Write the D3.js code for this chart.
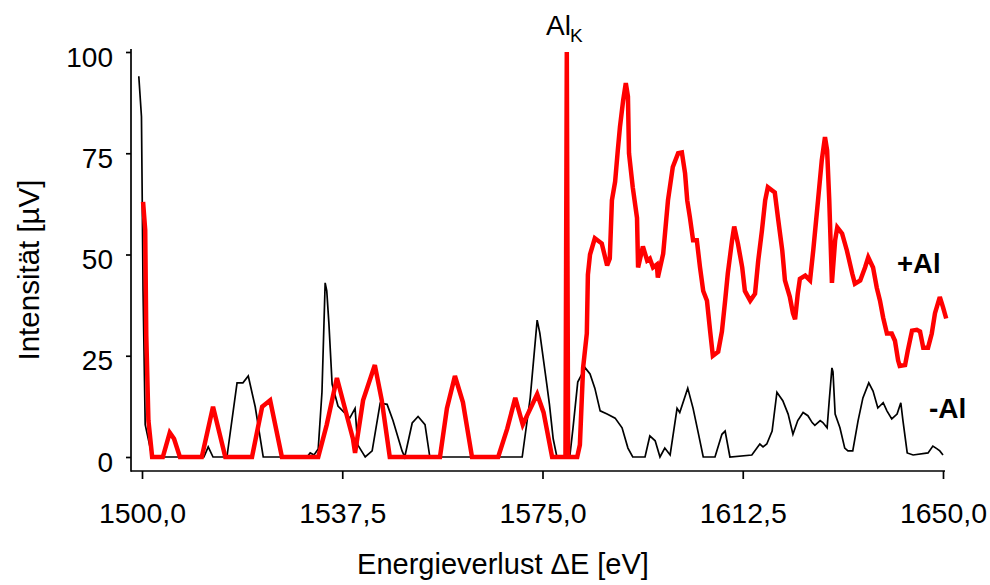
<!DOCTYPE html>
<html>
<head>
<meta charset="utf-8">
<script src="https://cdn.jsdelivr.net/npm/d3@7"></script>
<style>
  html, body { margin: 0; padding: 0; background: #fff; }
  svg { display: block; }
  text { font-family: "Liberation Sans", Arial, sans-serif; fill: #000; }
</style>
</head>
<body>
<svg id="chart" width="990" height="585"></svg>
<script>
// ---- Data ----
const xTicks = [1500, 1537.5, 1575, 1612.5, 1650];
const xTickLabels = ["1500,0", "1537,5", "1575,0", "1612,5", "1650,0"];
const yTicks = [0, 25, 50, 75, 100];
const yTickLabels = ["0", "25", "50", "75", "100"];

// -Al (black)
const minusAlE = [1499.4,1499.9,1500.2,1500.6,1501.9,1511.6,1512.4,1513.3,1515.9,1517.8,1518.9,1519.9,1521.2,1522.7,
  1530.9,1531.5,1532.2,1533.0,1533.7,1534.3,1534.6,1535.0,1535.6,1536.7,1538.9,1539.9,1540.4,1541.8,1543.1,1544.6,1545.9,
  1547.0,1548.7,1549.2,1550.6,1551.7,1553.0,1553.9,1571.2,1572.7,1574.0,1574.5,1575.8,1576.3,1577.0,1577.7,1580.1,1580.7,
  1581.6,1583.0,1583.9,1584.8,1585.8,1587.1,1588.6,1589.9,1591.0,1591.9,1594.2,1595.1,1596.1,1597.0,1597.9,1598.9,1600.2,
  1600.7,1602.2,1603.2,1604.1,1605.1,1607.3,1608.6,1609.2,1610.1,1614.2,1615.7,1616.3,1617.0,1618.0,1618.9,1620.0,1621.0,
  1621.9,1622.8,1623.8,1624.7,1625.5,1626.0,1627.0,1627.5,1628.3,1628.7,1629.2,1629.4,1629.8,1630.7,1631.6,1632.2,1633.1,
  1634.1,1635.0,1636.1,1636.9,1637.8,1638.8,1639.5,1640.4,1641.4,1642.1,1642.5,1643.3,1644.4,1647.2,1648.1,1648.9,1649.4,1650.0];
const minusAlI = [94,84,41,8,0,0,2.5,0,0,18.3,18.3,20,12.4,0,
  0,1,0.5,2,16,43,41,33,18,12.6,9.6,12,3,0,1.5,13.3,13,
  9,1.5,0,8.4,10,8,0,0,14.6,33.8,30.6,18,13,4.5,0,0,7,
  18.5,22,20.5,17,11.4,10.6,9.6,7.2,2.2,0,0,5.2,4,0,2.2,0.5,12,
  11,17,12,6.4,0,0,5.6,6.4,0,0.5,3.2,2.5,3.2,6.4,16,13.9,10.6,
  5.6,9,11,10.2,8.5,7.8,9,8.5,7.2,14,22,21,10.6,7.2,2.2,1.5,1.5,
  9,14.6,18.3,16.3,12.1,13.4,11.4,9.4,10.6,13.4,9,1,0.5,1,2.7,2,1.5,0.5];

// +Al (red)
const plusAlE = [1500.2,1500.6,1500.8,1501.2,1501.9,1503.9,1505.2,1506.0,1507.1,1511.2,1513.3,1515.6,1520.6,1522.5,1524.0,1526.2,
  1533.0,1534.6,1536.5,1537.6,1539.5,1539.9,1541.4,1543.6,1544.9,1546.4,1555.8,1557.1,1558.6,1560.1,1561.8,1566.7,1568.4,
  1569.9,1571.3,1574.0,1575.2,1576.8,1579.3,1579.55,1579.8,1581.5,1582.0,1582.6,1583.3,1583.5,1583.9,1584.8,1586.1,1587.1,
  1587.6,1588.0,1588.6,1589.1,1589.5,1590.1,1590.6,1591.0,1591.2,1591.9,1592.7,1592.9,1593.8,1594.6,1595.1,1595.7,1596.4,
  1596.6,1597.6,1598.5,1599.4,1600.4,1601.1,1601.7,1602.1,1602.6,1603.2,1603.9,1604.5,1605.1,1605.8,1606.4,1606.9,1607.9,
  1608.6,1609.2,1609.7,1610.5,1610.9,1611.6,1612.4,1612.9,1613.9,1614.8,1615.4,1616.1,1616.7,1617.2,1618.5,1619.1,1619.9,
  1620.4,1621.3,1621.9,1622.3,1622.8,1623.2,1624.2,1625.1,1625.7,1626.6,1627.3,1627.9,1628.3,1628.7,1629.2,1629.8,1630.2,
  1631.1,1632.0,1633.0,1633.5,1634.5,1635.4,1636.0,1636.9,1637.6,1638.2,1638.8,1639.5,1640.4,1641.0,1641.6,1641.9,1642.9,
  1643.4,1644.2,1645.1,1645.7,1646.3,1647.2,1647.9,1648.5,1649.4,1650.0,1650.6];
const plusAlI = [63,56,30,9,0,0,6,4.5,0,0,12.4,0,0,12.4,14,0,
  0,8,19.5,14,4.5,1,14,22.7,14,0,0,12,20,13.5,0,0,7,
  14.6,8,15.5,11,0,0,100,0,0,3,22,30.5,45,50,54,52.7,47.3,
  49,63.4,68,75.7,81.4,88,92.3,89,75,66.6,59,46.8,52,48.5,49,46.8,47.5,
  44.3,50.2,63.4,71.6,75,75.2,70,63.4,59.2,53.5,53.5,46.8,41,38.6,31,25,26,
  31,38.6,45.3,53.5,56.9,52.7,46.8,41,38.6,40.3,48.5,56,63.4,66.6,65.3,59,51,
  43.6,39.6,35.5,34,40.3,44,44.8,43.6,51,63.4,73.3,79,75.7,63.4,43,53.5,56.7,
  55.2,51,45.3,42.8,43.6,46.8,49.3,46.8,41.8,38.6,34.4,30.5,30.5,28.7,23.8,22.5,22.7,
  26.2,31.2,31.4,31,27,27,30.5,35.5,39.5,37,34.2];

// ---- Drawing ----
const svg = d3.select("#chart");
const x = d3.scaleLinear().domain([1500, 1650]).range([142, 943]);
const y = d3.scaleLinear().domain([0, 100]).range([457, 52]);

const axisX = 131, axisY = 471;

// axis lines
svg.append("line").attr("x1", axisX).attr("x2", axisX).attr("y1", 49).attr("y2", axisY + 0.75)
  .attr("stroke", "#000").attr("stroke-width", 1.7);
svg.append("line").attr("x1", axisX).attr("x2", 945).attr("y1", axisY).attr("y2", axisY)
  .attr("stroke", "#000").attr("stroke-width", 1.7);

// y axis ticks
const gy = svg.append("g").attr("transform", `translate(${axisX},0)`)
  .call(d3.axisLeft(y).tickValues(yTicks).tickSize(5).tickFormat((d, i) => yTickLabels[i]));
gy.select(".domain").remove();
gy.selectAll(".tick line").attr("stroke", "#000").attr("stroke-width", 1.7);
gy.selectAll(".tick text").attr("x", -18).attr("dy", "0.5em")
  .style("font-size", "28px").style("font-family", "'Liberation Sans', Arial, sans-serif");

// x axis ticks
const gx = svg.append("g").attr("transform", `translate(0,${axisY})`)
  .call(d3.axisBottom(x).tickValues(xTicks).tickSize(8).tickFormat((d, i) => xTickLabels[i]));
gx.select(".domain").remove();
gx.selectAll(".tick line").attr("stroke", "#000").attr("stroke-width", 1.7);
gx.selectAll(".tick text").attr("y", 52).attr("dy", 0)
  .style("font-size", "28.5px").style("font-family", "'Liberation Sans', Arial, sans-serif");

// lines
const minusData = minusAlE.map((e, i) => [e, minusAlI[i]]);
const plusData = plusAlE.map((e, i) => [e, plusAlI[i]]);
const line = d3.line().x(d => x(d[0])).y(d => y(d[1]));

svg.append("path").datum(minusData).attr("d", line)
  .attr("fill", "none").attr("stroke", "#000").attr("stroke-width", 1.7).attr("stroke-linejoin", "miter");
svg.append("path").datum(plusData).attr("d", line)
  .attr("fill", "none").attr("stroke", "#ff0000").attr("stroke-width", 4.5).attr("stroke-linejoin", "miter")
  .attr("stroke-miterlimit", 3);

// labels
svg.append("text").attr("x", 503).attr("y", 574).attr("text-anchor", "middle")
  .style("font-size", "29px").text("Energieverlust ΔE [eV]");
svg.append("text").attr("transform", "translate(39,270) rotate(-90)").attr("text-anchor", "middle")
  .style("font-size", "29.5px").text("Intensität [µV]");

svg.append("text").attr("x", 546).attr("y", 35).style("font-size", "28px").text("Al");
svg.append("text").attr("x", 570).attr("y", 42).style("font-size", "19px").text("K");

svg.append("text").attr("x", 897).attr("y", 273).style("font-size", "27.5px").style("font-weight", "bold").text("+Al");
svg.append("text").attr("x", 929).attr("y", 418).style("font-size", "28px").style("font-weight", "bold").text("-Al");
</script>
</body>
</html>
